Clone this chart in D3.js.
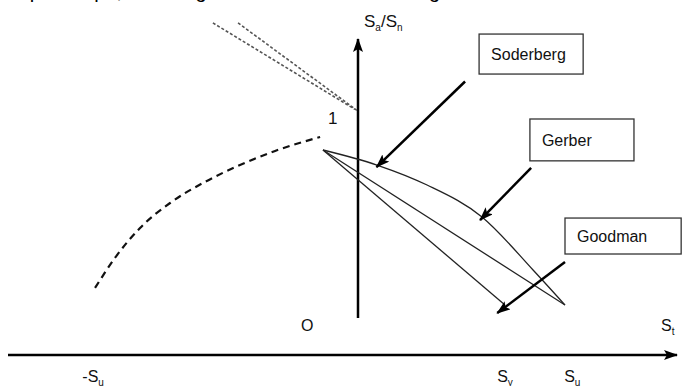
<!DOCTYPE html>
<html>
<head>
<meta charset="utf-8">
<script src="https://cdn.jsdelivr.net/npm/d3@7"></script>
<style>
	body { margin: 0; background: #fff; }
	svg { display: block; font-family: "Liberation Sans", Arial, sans-serif; }
	.lbl { font-size: 16px; fill: #111; }
	.sub { font-size: 10px; }
</style>
</head>
<body>
<svg id="chart" width="686" height="386"></svg>
<script>
// mean stress in units of Su, alternating stress in units of Sn
var gerber = [[0, 1], [0.223, 0.903], [0.43, 0.774], [0.657, 0.568], [0.868, 0.226], [1, 0]];
var goodman = [[0, 1], [1, 0]];
var soderberg = [[0, 1], [0.752, 0]];
var compression = [[-0.942, 0.11], [-0.86, 0.303], [-0.756, 0.497], [-0.632, 0.658], [-0.488, 0.794],
	[-0.343, 0.903], [-0.198, 0.994], [-0.012, 1.084]];
var guideLines = [
	[[-0.455, 1.82], [0.132, 1.262]],
	[[-0.351, 1.82], [0.14, 1.256]]
];
var tickLabels = [
	{ pre: "-S", sub: "u", value: -0.95 },
	{ pre: "S", sub: "y", value: 0.752 },
	{ pre: "S", sub: "u", value: 1.03 }
];
var callouts = [
	{ name: "Soderberg", box: [0.645, 1.748, 0.43, 0.258], from: [0.587, 1.442], to: [0.221, 0.89] },
	{ name: "Gerber", box: [0.855, 1.2, 0.43, 0.27], from: [0.86, 0.884], to: [0.649, 0.548] },
	{ name: "Goodman", box: [1.0, 0.561, 0.48, 0.232], from: [1.0, 0.277], to: [0.72, -0.052] }
];

var svg = d3.select('#chart');

var x = d3.scaleLinear().domain([0, 1]).range([323, 565]),
	y = d3.scaleLinear().domain([0, 1]).range([305, 150]);

var defs = svg.append('defs');
defs.append('marker')
	.attr('id', 'head')
	.attr('markerUnits', 'userSpaceOnUse')
	.attr('viewBox', '0 0 14 10')
	.attr('refX', 13)
	.attr('refY', 5)
	.attr('markerWidth', 14)
	.attr('markerHeight', 10)
	.attr('orient', 'auto')
	.append('path')
	.attr('d', 'M0,0 L14,5 L0,10 L3,5 z')
	.attr('fill', '#000');

// clipped line of text from the page above
svg.append('text')
	.attr('x', 2)
	.attr('y', -2)
	.style('font-size', '20px')
	.style('fill', '#000')
	.text('amplitude pa, Su being the ultimate tensile strength and Sn the endurance limit of the part, Sy being the yield stress');

// axes
svg.append('line')
	.attr('x1', 8).attr('y1', 355)
	.attr('x2', 677).attr('y2', 355)
	.attr('stroke', '#000').attr('stroke-width', 2.5)
	.attr('marker-end', 'url(#head)');

svg.append('line')
	.attr('x1', 358).attr('y1', 318)
	.attr('x2', 358).attr('y2', 39)
	.attr('stroke', '#000').attr('stroke-width', 2.5)
	.attr('marker-end', 'url(#head)');

var line = d3.line()
	.x(function(d){ return x(d[0]); })
	.y(function(d){ return y(d[1]); });

// dotted guide lines
svg.selectAll('.guide')
	.data(guideLines)
	.enter().append('path')
	.attr('class', 'guide')
	.attr('d', line)
	.attr('fill', 'none')
	.attr('stroke', '#555')
	.attr('stroke-width', 1.6)
	.attr('stroke-dasharray', '3,2');

// compressive side
svg.append('path')
	.attr('d', line.curve(d3.curveMonotoneX)(compression))
	.attr('fill', 'none')
	.attr('stroke', '#111')
	.attr('stroke-width', 2.2)
	.attr('stroke-dasharray', '7,5');

line.curve(d3.curveLinear);

[soderberg, goodman].forEach(function(s){
	svg.append('path')
		.attr('d', line(s))
		.attr('fill', 'none')
		.attr('stroke', '#222')
		.attr('stroke-width', 1.3);
});

svg.append('path')
	.attr('d', line.curve(d3.curveMonotoneX)(gerber))
	.attr('fill', 'none')
	.attr('stroke', '#222')
	.attr('stroke-width', 1.3);

// callouts
var call = svg.selectAll('.callout')
	.data(callouts)
	.enter().append('g')
	.attr('class', 'callout');

call.append('rect')
	.attr('x', function(d){ return x(d.box[0]); })
	.attr('y', function(d){ return y(d.box[1]); })
	.attr('width', function(d){ return x(d.box[2]) - x(0); })
	.attr('height', function(d){ return y(0) - y(d.box[3]); })
	.attr('fill', '#fff')
	.attr('stroke', '#333')
	.attr('stroke-width', 1.3);

call.append('text')
	.attr('class', 'lbl')
	.attr('x', function(d){ return x(d.box[0]) + 12; })
	.attr('y', function(d){ return y(d.box[1]) + (y(0) - y(d.box[3])) / 2; })
	.attr('dy', '0.36em')
	.text(function(d){ return d.name; });

call.append('line')
	.attr('x1', function(d){ return x(d.from[0]); })
	.attr('y1', function(d){ return y(d.from[1]); })
	.attr('x2', function(d){ return x(d.to[0]); })
	.attr('y2', function(d){ return y(d.to[1]); })
	.attr('stroke', '#000')
	.attr('stroke-width', 2.5)
	.attr('marker-end', 'url(#head)');

// axis labels
var ya = svg.append('text').attr('class', 'lbl').attr('x', 364).attr('y', 27).style('font-size', '17px');
ya.append('tspan').text('S');
ya.append('tspan').attr('class', 'sub').attr('dy', 4).text('a');
ya.append('tspan').attr('dy', -4).text('/S');
ya.append('tspan').attr('class', 'sub').attr('dy', 4).text('n');

svg.append('text').attr('class', 'lbl').attr('x', 328).attr('y', 124).style('font-size', '17px').text('1');
svg.append('text').attr('class', 'lbl').attr('x', 301).attr('y', 331).text('O');

var st = svg.append('text').attr('class', 'lbl').attr('x', 661).attr('y', 331);
st.append('tspan').text('S');
st.append('tspan').attr('class', 'sub').attr('dy', 4).text('t');

var ticks = svg.selectAll('.tick')
	.data(tickLabels)
	.enter().append('text')
	.attr('class', 'lbl tick')
	.attr('x', function(d){ return x(d.value); })
	.attr('y', 382)
	.attr('text-anchor', 'middle');

ticks.append('tspan').text(function(d){ return d.pre; });
ticks.append('tspan').attr('class', 'sub').attr('dy', 4).text(function(d){ return d.sub; });
</script>
</body>
</html>
